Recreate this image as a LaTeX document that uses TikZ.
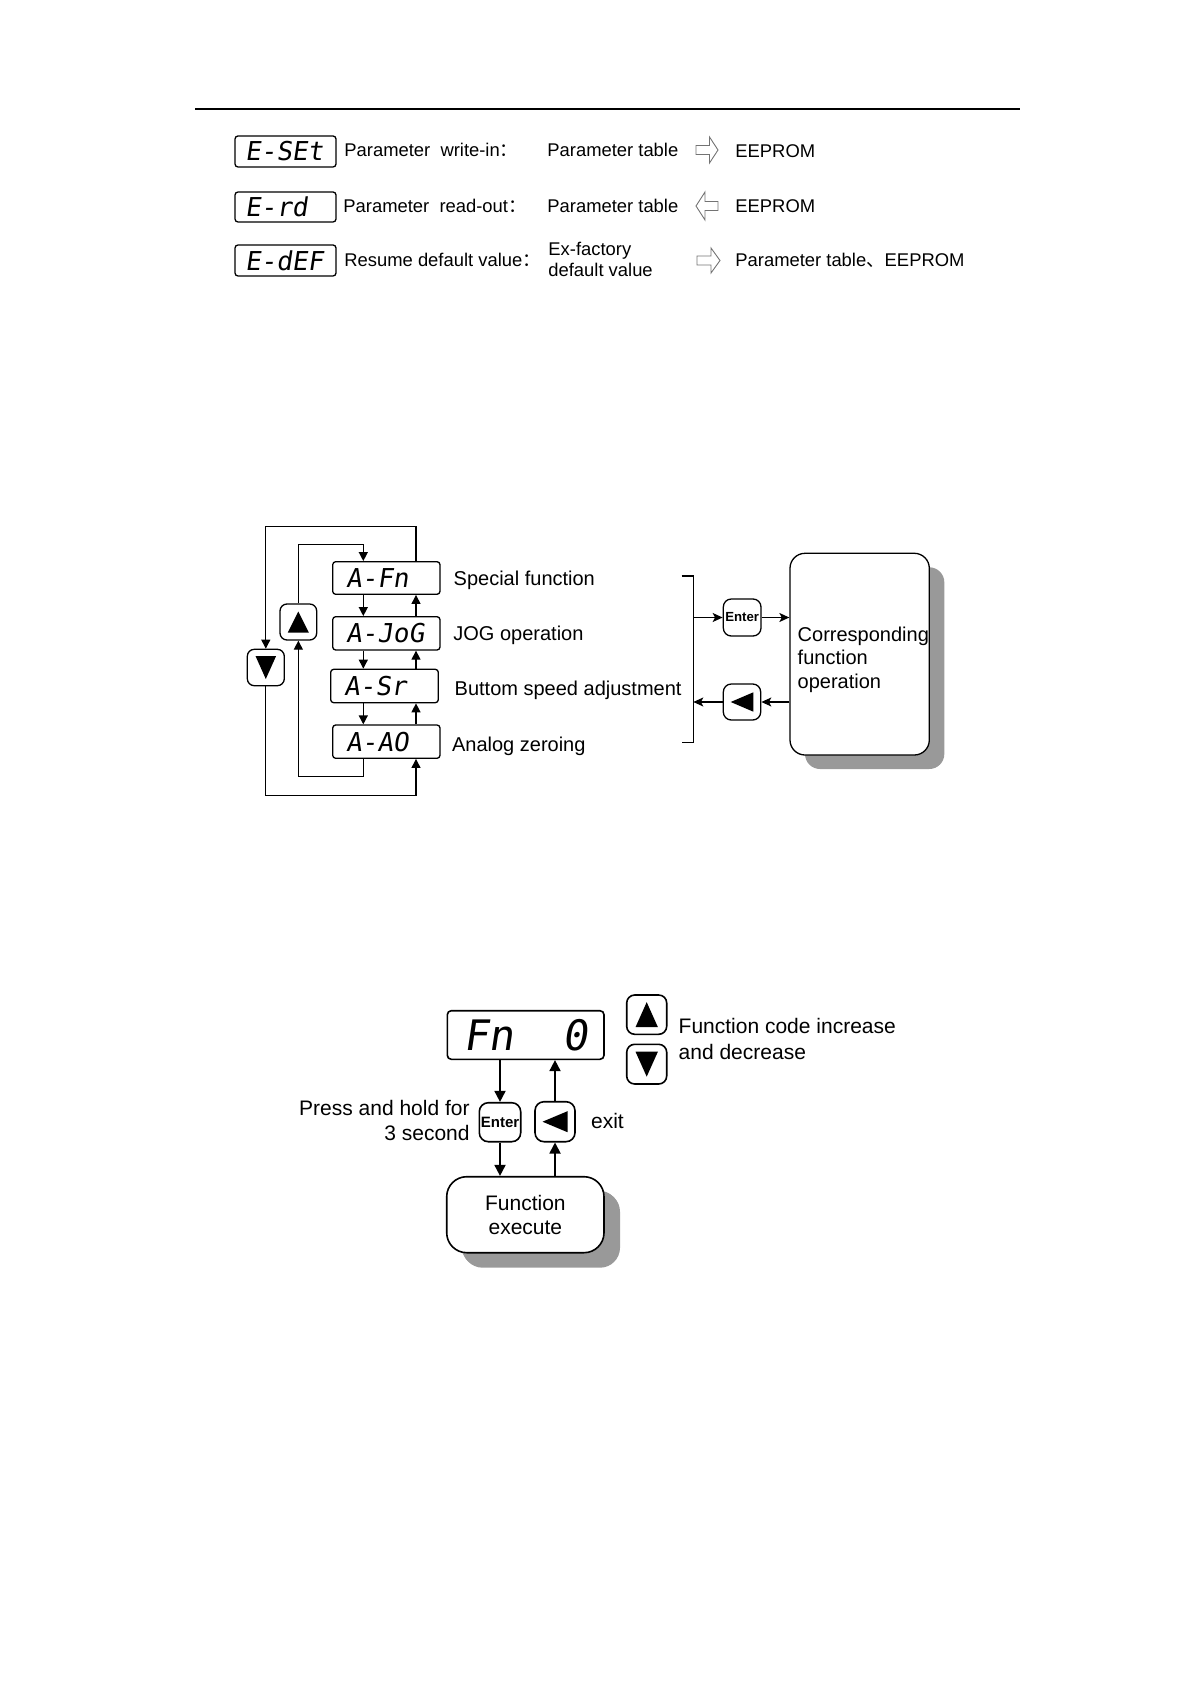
\documentclass[tikz,border=0pt]{standalone}
\usepackage{fontspec}
\setmainfont{Liberation Sans}
\newfontfamily\cjkfont{Noto Sans CJK SC}
\newfontfamily\segfont[FakeSlant=0.15]{DejaVu Sans Mono}
\usetikzlibrary{arrows.meta,shadows}
\newcommand{\UpTri}[3]{\fill ([shift={(-#2,#3)}]#1.center) -- ([shift={(#2,#3)}]#1.center) -- ([shift={(0,-#3)}]#1.center) -- cycle;}
\newcommand{\DnTri}[3]{\fill ([shift={(-#2,-#3)}]#1.center) -- ([shift={(#2,-#3)}]#1.center) -- ([shift={(0,#3)}]#1.center) -- cycle;}
\newcommand{\LtTri}[3]{\fill ([shift={(#2,-#3)}]#1.center) -- ([shift={(#2,#3)}]#1.center) -- ([shift={(-#2,0)}]#1.center) -- cycle;}
\begin{document}
\begin{tikzpicture}[x=0.5pt,y=-0.5pt,
  lcd/.style={draw, line width=0.65pt, rounded corners=1.5pt, inner ysep=0pt, align=left, font=\segfont\fontsize{13}{13}\selectfont},
  keybox/.style={draw, line width=0.65pt, rounded corners=3.5pt, inner sep=0pt, fill=white},
  lbl/.style={inner sep=0pt, font=\fontsize{10}{12}\selectfont},
  tbl/.style={inner sep=0pt, font=\fontsize{9.2}{11}\selectfont},
  conn/.style={line width=0.65pt, -{Triangle[length=4.5pt,width=4.5pt]}},
  sconn/.style={line width=0.65pt, -{Stealth[length=5pt,width=4.5pt,inset=1.2pt]}},
  bconn/.style={line width=0.9pt, -{Triangle[length=5.5pt,width=5.5pt]}},
  plainln/.style={line width=0.65pt},
  harrow/.style={draw=black!55, line width=0.45pt},
  shadowbox/.style={draw, fill=white, general shadow={fill=black!40, shadow xshift=7.5pt, shadow yshift=-7pt}},
]
\useasboundingbox (0,0) rectangle (1190,1684);

% ---------- top rule ----------
\draw[line width=1pt] (195,109.5) -- (1020,109.5);

% ---------- top table ----------
\node[lcd, inner xsep=5pt, text width=40.5pt, minimum height=15.5pt] (eset) at (285.5,151.5) {E-SEt};
\node[lcd, inner xsep=5pt, text width=40.5pt, minimum height=15pt] (erd) at (285.5,207) {E-rd};
\node[lcd, inner xsep=5pt, text width=40.5pt, minimum height=15.5pt] (edef) at (285.5,260.5) {E-dEF};

\node[tbl, anchor=base west] (t1a) at (344,157) {Parameter\ \ write-in{\cjkfont ：}};
\node[tbl, anchor=base west] (t1b) at (547,157) {Parameter table};
\node[tbl, anchor=base west] (t1c) at (735,158) {EEPROM};

\node[tbl, anchor=base west] (t2a) at (343,213) {Parameter\ \ read-out{\cjkfont ：}};
\node[tbl, anchor=base west] (t2b) at (547,213) {Parameter table};
\node[tbl, anchor=base west] (t2c) at (735,213) {EEPROM};

\node[tbl, anchor=base west] (t3a) at (344,267) {Resume default value{\cjkfont ：}};
\node[tbl, anchor=base west] (t3b) at (548,255.5) {Ex-factory};
\node[tbl, anchor=base west] (t3bb) at (548,277) {default value};
\node[tbl, anchor=base west] (t3c) at (735,267) {Parameter table{\cjkfont 、}EEPROM};

\draw[harrow] (696,145.5) -- (709.5,145.5) -- (709.5,137) -- (718,150) -- (709.5,163) -- (709.5,154.5) -- (696,154.5) -- cycle;
\draw[harrow] (718,201.5) -- (705,201.5) -- (705,192) -- (696,206) -- (705,220) -- (705,210.5) -- (718,210.5) -- cycle;
\draw[harrow] (697,256) -- (711,256) -- (711,248) -- (720,260.5) -- (711,273) -- (711,265) -- (697,265) -- cycle;

% ---------- middle diagram ----------
\node[lcd, inner xsep=6.65pt, text width=40.35pt, minimum height=16.3pt] (afn) at (386.35,578) {A-Fn};
\node[lcd, inner xsep=6.65pt, text width=40.35pt, minimum height=16.65pt] (ajog) at (386.35,633.35) {A-JoG};
\node[lcd, inner xsep=6.65pt, text width=40.5pt, minimum height=16.7pt] (asr) at (384.5,686) {A-Sr};
\node[lcd, inner xsep=6.65pt, text width=40.35pt, minimum height=16.65pt] (aao) at (386.35,741.65) {A-AO};

\node[keybox, minimum width=18.35pt, minimum height=18pt] (upk) at (298.35,622) {};
\node[keybox, minimum width=18.5pt, minimum height=18.2pt] (dnk) at (265.8,667.5) {};
\UpTri{upk}{10.5}{10.5}
\DnTri{dnk}{10.3}{11.5}

\node[lbl, anchor=base west] (lsf) at (453.3,585) {Special function};
\node[lbl, anchor=base west] (ljog) at (453,640.7) {JOG operation};
\node[lbl, anchor=base west] (lsr) at (454.3,695) {Buttom speed adjustment};
\node[lbl, anchor=base west] (lao) at (451.7,751.7) {Analog zeroing};

\coordinate (dx) at (363.3,0);
\coordinate (ux) at (416,0);
\coordinate (yt1) at (0,526.7);
\coordinate (yt2) at (0,544.3);
\coordinate (yb2) at (0,776.7);
\coordinate (yb1) at (0,795.7);

\draw[conn] (afn.south -| dx) -- (ajog.north -| dx);
\draw[conn] (ajog.south -| dx) -- (asr.north -| dx);
\draw[conn] (asr.south -| dx) -- (aao.north -| dx);
\draw[conn] (aao.north -| ux) -- (asr.south -| ux);
\draw[conn] (asr.north -| ux) -- (ajog.south -| ux);
\draw[conn] (ajog.north -| ux) -- (afn.south -| ux);

\draw[conn] (afn.north -| ux) -- (ux |- yt1) -| (dnk.north);
\draw[conn] (dnk.south) -- (dnk.south |- yb1) -| (aao.south -| ux);
\draw[conn] (aao.south -| dx) -- (dx |- yb2) -| (upk.south);
\draw[conn] (upk.north) -- (upk.north |- yt2) -| (afn.north -| dx);

% bracket
\coordinate (brt) at (681.7,576);
\coordinate (brb) at (681.7,742.7);
\coordinate (bx) at (693.3,0);
\draw[plainln] (brt) -- (bx |- brt) -- (bx |- brb) -- (brb);

\node[keybox, rounded corners=4pt, minimum width=18.85pt, minimum height=18.5pt, font=\bfseries\fontsize{6.6}{7}\selectfont] (ent1) at (742.15,617.5) {Enter};
\node[keybox, rounded corners=4pt, minimum width=18.7pt, minimum height=18pt] (bk1) at (742,702) {};
\LtTri{bk1}{11.3}{9.7}

\node[shadowbox, line width=0.65pt, rounded corners=7.5pt, minimum width=69.65pt, minimum height=100.85pt] (cfo) at (859.65,654.15) {};
\node[lbl, anchor=north west, align=left, font=\fontsize{10}{11.75}\selectfont] (cfotxt) at (797.3,626.4) {Corresponding\\function\\operation};

\draw[sconn] (bx |- ent1) -- (ent1.west);
\draw[sconn] (ent1.east) -- (cfo.west |- ent1);
\draw[sconn] (cfo.west |- bk1) -- (bk1.east);
\draw[sconn] (bk1.west) -- (bx |- bk1);

% ---------- bottom diagram ----------
\node[lcd, line width=0.8pt, rounded corners=2pt, inner xsep=8pt, text width=62.35pt, minimum height=24.3pt, font=\segfont\fontsize{21}{21}\selectfont] (fn0) at (525.65,1035) {Fn\hfill 0};

\node[keybox, line width=0.8pt, rounded corners=4.5pt, minimum width=20.7pt, minimum height=19.5pt, font=\bfseries\fontsize{7.5}{8}\selectfont] (ent2) at (500,1122.2) {Enter};
\node[keybox, line width=0.8pt, rounded corners=4.5pt, minimum width=20pt, minimum height=20pt] (bk2) at (555,1121.7) {};
\LtTri{bk2}{12.5}{10.5}

\node[keybox, line width=0.8pt, rounded corners=4pt, minimum width=20pt, minimum height=19.65pt] (up2) at (646.7,1014.65) {};
\node[keybox, line width=0.8pt, rounded corners=4pt, minimum width=20pt, minimum height=19.85pt] (dn2) at (646.7,1064.15) {};
\UpTri{up2}{11.2}{12.5}
\DnTri{dn2}{11.2}{12.5}

\node[shadowbox, line width=0.8pt, rounded corners=10pt, minimum width=78.65pt, minimum height=38pt, align=center, font=\fontsize{10.5}{11.85}\selectfont, general shadow={fill=black!40, shadow xshift=8pt, shadow yshift=-7.5pt}] (fex) at (525.35,1214.7) {Function\\execute};

\draw[bconn] (fn0.south -| ent2) -- (ent2.north);
\draw[bconn] (ent2.south) -- (fex.north -| ent2);
\draw[bconn] (fex.north -| bk2) -- (bk2.south);
\draw[bconn] (bk2.north) -- (fn0.south -| bk2);

\node[lbl, anchor=north east, align=right, font=\fontsize{10.5}{12.5}\selectfont] (press) at (470,1099.7) {Press and hold for\\3 second};
\node[lbl, anchor=base west, font=\fontsize{10.5}{12.5}\selectfont] (exit) at (590.7,1128) {exit};
\node[lbl, anchor=north west, align=left, font=\fontsize{10.5}{13}\selectfont] (fcid) at (678.3,1018) {Function code increase\\and decrease};
\end{tikzpicture}
\end{document}
